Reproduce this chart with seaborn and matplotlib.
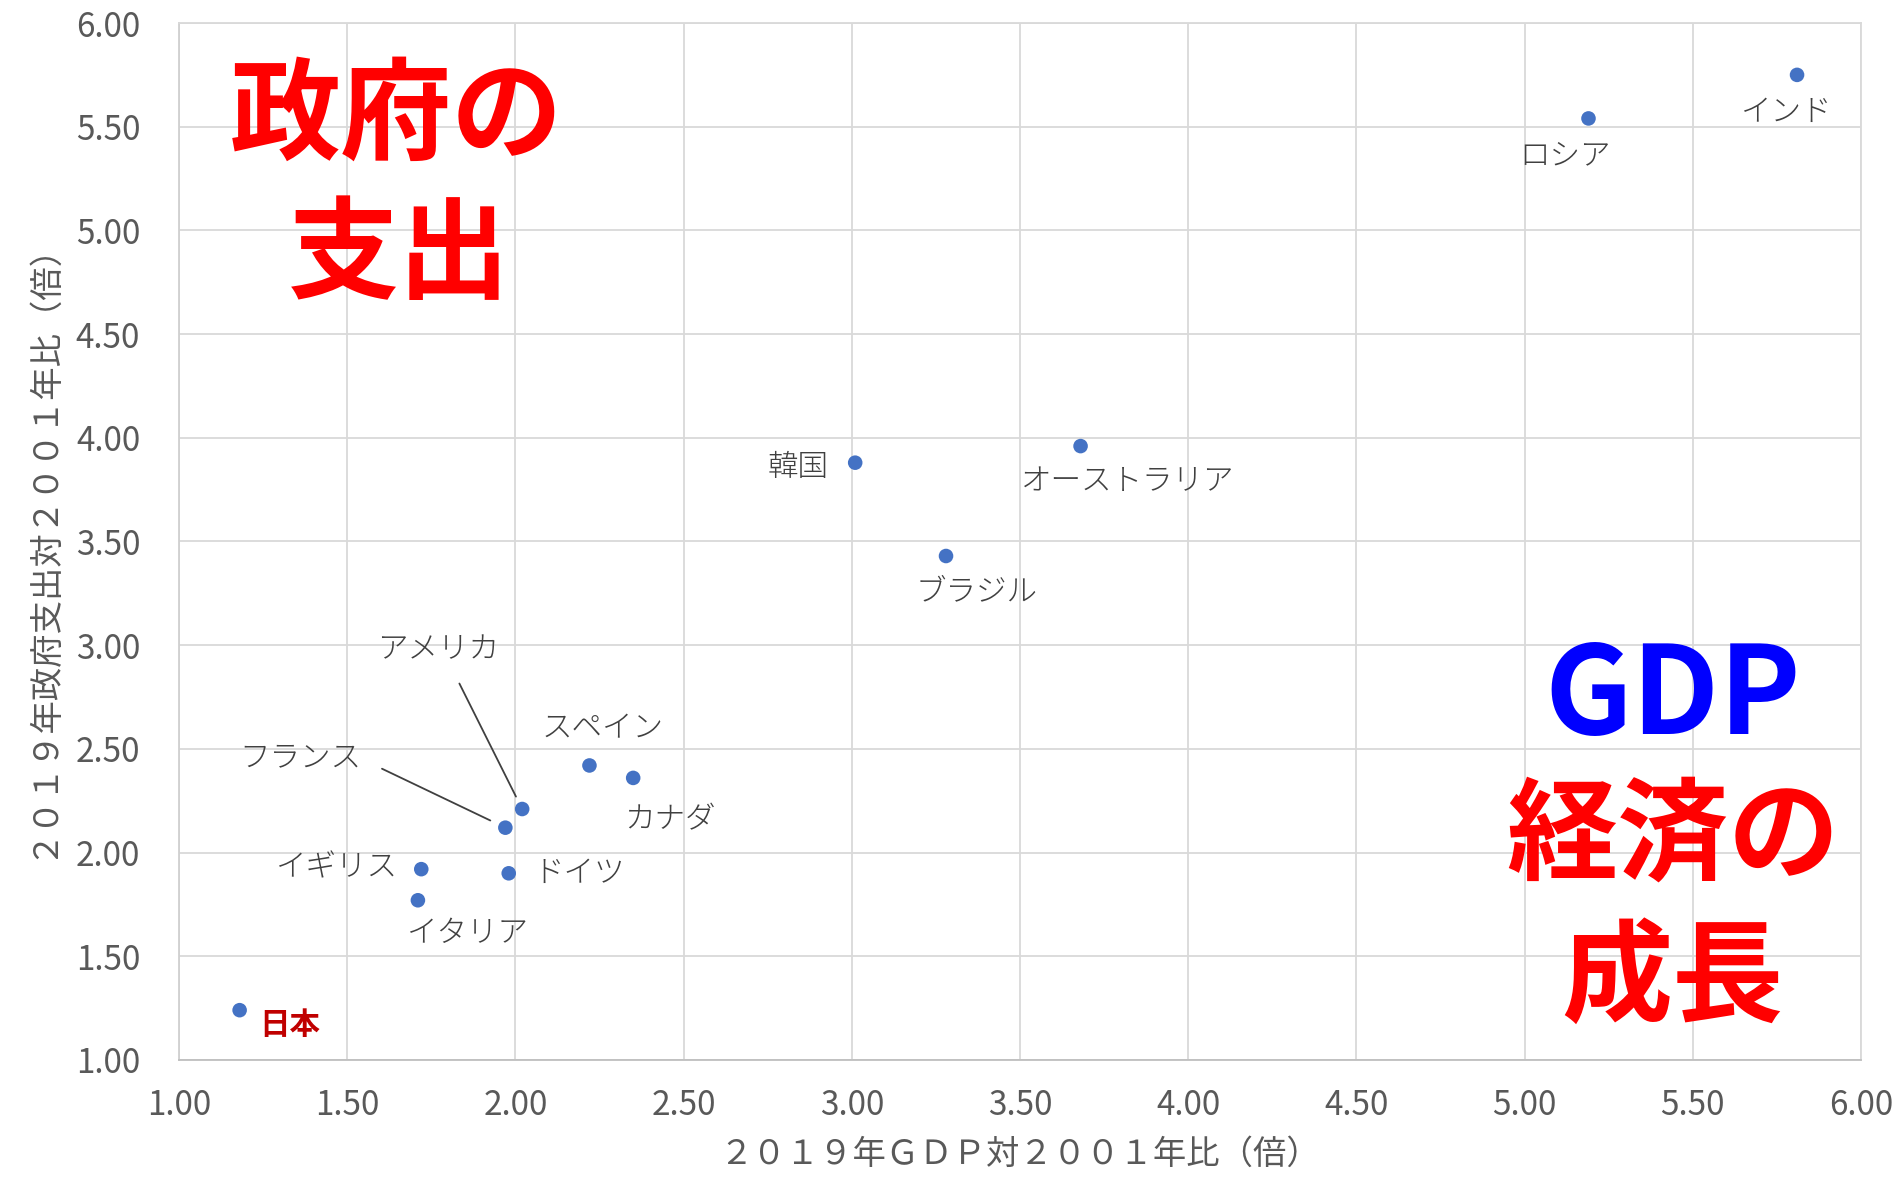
import matplotlib
matplotlib.use("Agg")
import matplotlib.pyplot as plt
import seaborn as sns
import pandas as pd

# ---- data ----
countries = ["日本", "イタリア", "イギリス", "ドイツ", "フランス", "アメリカ", "スペイン",
             "カナダ", "韓国", "ブラジル", "オーストラリア", "ロシア", "インド"]
gdp_ratio = [1.18, 1.71, 1.72, 1.98, 1.97, 2.02, 2.22, 2.35, 3.01, 3.28, 3.68, 5.19, 5.81]
spend_ratio = [1.24, 1.77, 1.92, 1.90, 2.12, 2.21, 2.42, 2.36, 3.88, 3.43, 3.96, 5.54, 5.75]
x_ticks = [1.00, 1.50, 2.00, 2.50, 3.00, 3.50, 4.00, 4.50, 5.00, 5.50, 6.00]
y_ticks = [1.00, 1.50, 2.00, 2.50, 3.00, 3.50, 4.00, 4.50, 5.00, 5.50, 6.00]
x_label = "２０１９年ＧＤＰ対２００１年比（倍）"
y_label = "２０１９年政府支出対２００１年比（倍）"

# label placement (layout, data coords of text centre)
label_pos = {
    "日本": (1.33, 1.17), "イタリア": (1.86, 1.61), "イギリス": (1.47, 1.93),
    "ドイツ": (2.19, 1.90), "フランス": (1.36, 2.46), "アメリカ": (1.77, 2.98),
    "スペイン": (2.26, 2.60), "カナダ": (2.46, 2.16), "韓国": (2.84, 3.86),
    "ブラジル": (3.37, 3.26), "オーストラリア": (3.82, 3.79), "ロシア": (5.12, 5.36),
    "インド": (5.78, 5.57),
}

df = pd.DataFrame({"country": countries, "gdp": gdp_ratio, "spend": spend_ratio})

sns.set_theme(style="white")
plt.rcParams["font.family"] = ["Noto Sans CJK JP", "DejaVu Sans"]

fig = plt.figure(figsize=(18.97, 11.81), dpi=100)
ax = fig.add_axes([0.0944, 0.1025, 0.8866, 0.878])

sns.scatterplot(data=df, x="gdp", y="spend", ax=ax, color="#4472C4", s=110,
                edgecolor="none", zorder=3)

ax.set_xlim(1, 6)
ax.set_ylim(1, 6)
ax.set_xticks(x_ticks)
ax.set_yticks(y_ticks)
ax.set_xticklabels([f"{v:.2f}" for v in x_ticks])
ax.set_yticklabels([f"{v:.2f}" for v in y_ticks])
ax.tick_params(axis="both", labelsize=24, colors="#595959", length=0)
ax.tick_params(axis="y", pad=28)
ax.tick_params(axis="x", pad=20)
ax.grid(True, color="#D9D9D9", linewidth=1.3)
ax.set_axisbelow(True)
for side, sp in ax.spines.items():
    sp.set_color("#D9D9D9")
    sp.set_linewidth(1.3)
ax.spines["bottom"].set_color("#BFBFBF")
ax.spines["left"].set_color("#D0D0D0")

ax.set_xlabel(x_label, fontsize=24, color="#595959", labelpad=10)
ax.set_ylabel(y_label, fontsize=24, color="#595959", labelpad=12)

# point labels
for c, gx, sy in zip(countries, gdp_ratio, spend_ratio):
    tx, ty = label_pos[c]
    if c == "日本":
        ax.text(tx, ty, c, fontsize=22, color="#C00000", fontweight="bold",
                ha="center", va="center")
    elif c == "アメリカ":
        ax.annotate(c, xy=(gx, sy), xytext=(tx, ty), fontsize=22, color="#404040",
                    fontweight="light", ha="center", va="center",
                    arrowprops=dict(arrowstyle="-", color="#404040", lw=1.3,
                                    relpos=(0.6, 0.0), shrinkA=12, shrinkB=10))
    elif c == "フランス":
        ax.annotate(c, xy=(gx, sy), xytext=(tx, ty), fontsize=22, color="#404040",
                    fontweight="light", ha="center", va="center",
                    arrowprops=dict(arrowstyle="-", color="#404040", lw=1.3,
                                    relpos=(1.0, 0.45), shrinkA=14, shrinkB=12))
    else:
        ax.text(tx, ty, c, fontsize=22, color="#404040", fontweight="light",
                ha="center", va="center")

# big overlay texts
big = dict(fontsize=80, fontweight="bold", ha="center", va="center", color="#FF0000")
ax.text(1.647, 5.54, "政府の", **big)
ax.text(1.655, 4.87, "支出", **big)
ax.text(5.44, 2.745, "GDP", fontsize=88, fontweight="bold", ha="center", va="center",
        color="#0000FF")
ax.text(5.44, 2.07, "経済の", **big)
ax.text(5.44, 1.385, "成長", **big)

fig.savefig("out.png", dpi=100, facecolor="white")
